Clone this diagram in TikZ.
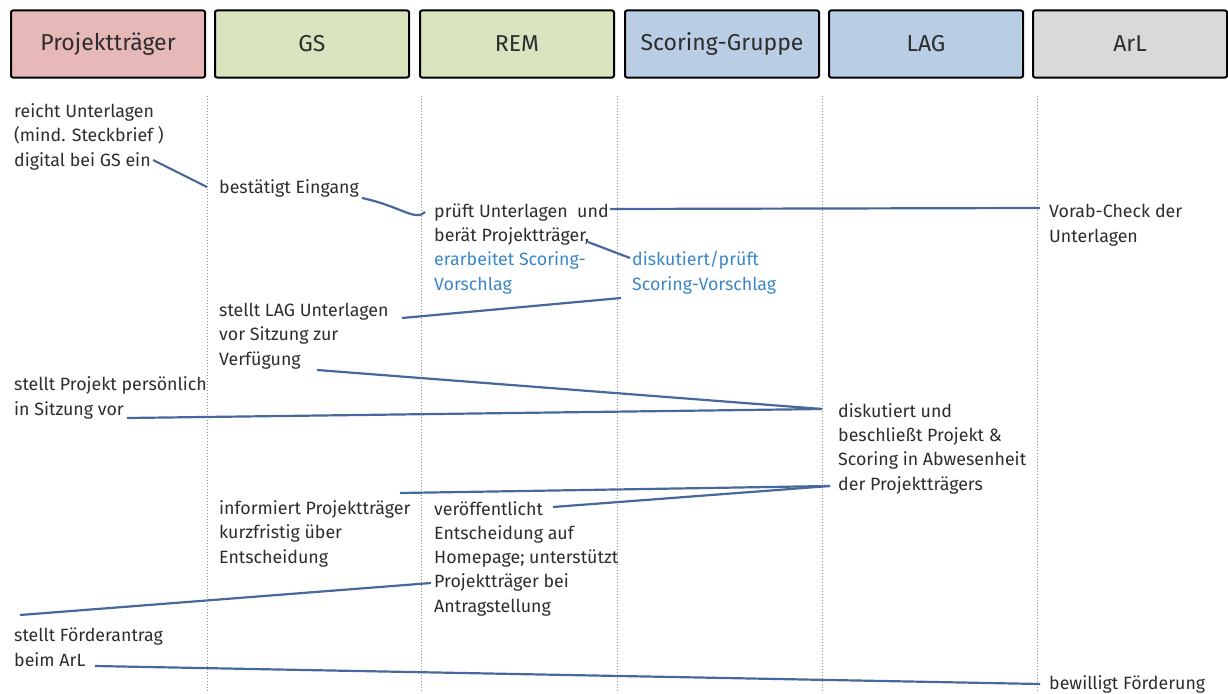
\documentclass[tikz,border=0pt]{standalone}
\usepackage{fontspec}
\setmainfont{Fira Sans}
\definecolor{ptpink}{RGB}{230,184,183}
\definecolor{gsgreen}{RGB}{215,228,189}
\definecolor{lagblue}{RGB}{185,205,229}
\definecolor{arlgray}{RGB}{217,217,217}
\definecolor{txtgray}{RGB}{45,45,45}
\definecolor{txtblue}{RGB}{60,135,200}
\definecolor{conblue}{RGB}{70,105,155}
\definecolor{dotgray}{RGB}{140,140,140}
\begin{document}
\begin{tikzpicture}[x=1pt,y=-1pt,
  hbox/.style={draw=black,line width=2pt,rounded corners=2pt,minimum width=194pt,minimum height=67pt,inner sep=0pt,text=txtgray,font=\fontsize{23}{26}\selectfont},
  txt/.style={align=left,inner sep=0pt,anchor=base west,text=txtgray,font=\fontsize{17.8}{24.2}\selectfont},
  con/.style={draw=conblue,line width=2.2pt},
  lane/.style={draw=dotgray,dotted,line width=1pt}]
\useasboundingbox (0,0) rectangle (1228,693);
% header
\node[hbox,fill=ptpink] (h1) at (108,44) {Projektträger};
\node[hbox,fill=gsgreen] (h2) at (312,44) {GS};
\node[hbox,fill=gsgreen] (h3) at (517,44) {REM};
\node[hbox,fill=lagblue] (h4) at (722,44) {Scoring-Gruppe};
\node[hbox,fill=lagblue] (h5) at (926,44) {LAG};
\node[hbox,fill=arlgray] (h6) at (1130,44) {ArL};
% lanes
\foreach \x/\n in {207/l1,421/l2,617/l3,822/l4,1037/l5}{
  \coordinate (\n t) at (\x,96);
  \coordinate (\n b) at (\x,693);
  \draw[lane] (\n t) -- (\n b);
}
% texts (anchor = baseline of last line)
\node[txt] (t1) at (14,166) {reicht Unterlagen\\(mind. Steckbrief )\\digital bei GS ein};
\node[txt] (t2) at (219,193) {bestätigt Eingang};
\node[txt] (t3) at (434,290) {prüft Unterlagen\ \ und\\berät Projektträger,\\\textcolor{txtblue}{erarbeitet Scoring-}\\\textcolor{txtblue}{Vorschlag}};
\node[txt,text=txtblue] (t4) at (632,290) {diskutiert/prüft\\Scoring-Vorschlag};
\node[txt] (t5) at (1049,242) {Vorab-Check der\\Unterlagen};
\node[txt] (t6) at (219,365) {stellt LAG Unterlagen\\vor Sitzung zur\\Verfügung};
\node[txt] (t7) at (14,415) {stellt Projekt persönlich\\in Sitzung vor};
\node[txt] (t8) at (838,490) {diskutiert und\\beschließt Projekt \&\\Scoring in Abwesenheit\\der Projektträgers};
\node[txt] (t9) at (219,563) {informiert Projektträger\\kurzfristig über\\Entscheidung};
\node[txt] (t10) at (434,612) {veröffentlicht\\Entscheidung auf\\Homepage; unterstützt\\Projektträger bei\\Antragstellung};
\node[txt] (t11) at (14,666) {stellt Förderantrag\\beim ArL};
\node[txt] (t12) at (1049,689) {bewilligt Förderung};
% connector points
\coordinate (a1) at (153,160); \coordinate (b1) at (207,187);
\coordinate (a2) at (362,198); \coordinate (b2) at (425,212);
\coordinate (a3) at (610,209); \coordinate (b3) at (1040,208);
\coordinate (a4) at (588,242); \coordinate (b4) at (630,258);
\coordinate (a5) at (402,318); \coordinate (b5) at (621,298);
\coordinate (a6) at (317,370); \coordinate (lagin) at (822,409);
\coordinate (a7) at (127,418);
\coordinate (a8) at (400,493); \coordinate (lagout) at (830,486);
\coordinate (a9) at (553,507);
\coordinate (a10) at (431,583); \coordinate (b10) at (20,615);
\coordinate (a11) at (95,666); \coordinate (b11) at (1040,684);
% connectors
\draw[con] (a1) -- (b1);
\draw[con] (a2) .. controls (400,206) and (416,222) .. (b2);
\draw[con] (a3) -- (b3);
\draw[con] (a4) -- (b4);
\draw[con] (a5) -- (b5);
\draw[con] (a6) -- (lagin);
\draw[con] (a7) -- (lagin);
\draw[con] (a8) -- (lagout);
\draw[con] (a9) -- (lagout);
\draw[con] (a10) -- (b10);
\draw[con] (a11) -- (b11);
\end{tikzpicture}
\end{document}
